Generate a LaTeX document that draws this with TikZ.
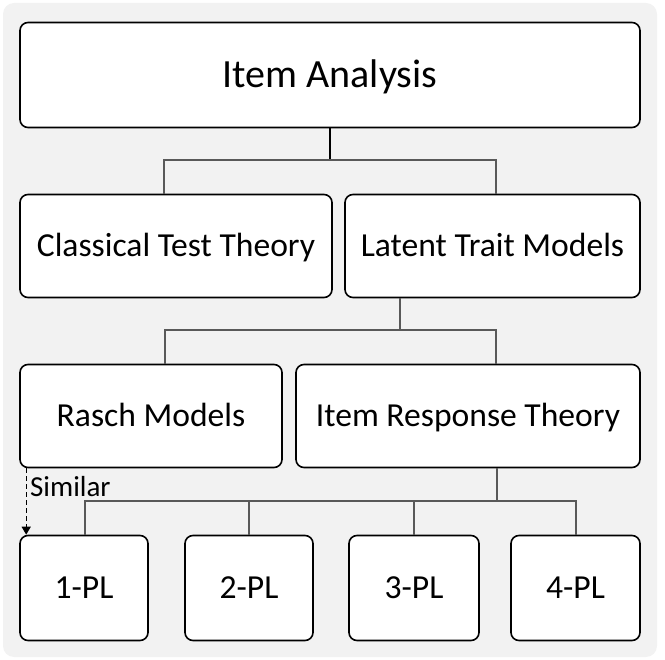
\documentclass[tikz,border=0pt]{standalone}
\usepackage{fontspec}
\setmainfont{Carlito}
\usetikzlibrary{arrows.meta}

\begin{document}
\begin{tikzpicture}[x=1pt, y=-1pt,
        box/.style={draw=black, line width=1.6pt, fill=white, rounded corners=8pt,
            font=\fontsize{33.6}{38}\selectfont, inner sep=0pt,
            text height=21.6pt, text depth=0pt},
        link/.style={draw=black!65, line width=1.3pt},
        similar/.style={draw=black, line width=1.3pt, dash pattern=on 5pt off 3pt,
            -{Triangle[width=9pt,length=8pt]}}]
        \useasboundingbox (0,0) rectangle (665,660);

        % hintergrund
        \fill[black!5, rounded corners=11pt] (3,3) rectangle (657,657);

        % oberste ebene
        \node[box, minimum width=620, minimum height=105, text height=25.8pt,
            font=\fontsize{40}{46}\selectfont] (ia) at (330,75) {Item Analysis};

        % zweite ebene
        \node[box, minimum width=312, minimum height=103] (ctt) at (176,246) {Classical Test Theory};
        \node[box, minimum width=295, minimum height=103] (ltm) at (492.5,246) {Latent Trait Models};

        % dritte ebene
        \node[box, minimum width=262, minimum height=103] (rm) at (151,416) {Rasch Models};
        \node[box, minimum width=344, minimum height=103] (irt) at (468,416) {Item Response Theory};

        % modelle
        \node[box, minimum width=128, minimum height=105] (pl1) at (84,588) {1-PL};
        \node[box, minimum width=128, minimum height=105] (pl2) at (249,588) {2-PL};
        \node[box, minimum width=130, minimum height=105] (pl3) at (414,588) {3-PL};
        \node[box, minimum width=129, minimum height=105] (pl4) at (575.5,588) {4-PL};

        % verbindungen
        \coordinate (j1) at (330,160);
        \coordinate (j2) at (400,330);
        \coordinate (j3) at (497,501);

        \draw[link, draw=black] (ia) -- (j1);
        \draw[link] ([xshift=-12pt]ctt.north) |- (j1) -| ([xshift=3.5pt]ltm.north);

        \draw[link] (ltm.south -| j2) -- (j2);
        \draw[link] ([xshift=14pt]rm.north) |- (j2) -| ([xshift=28pt]irt.north);

        \draw[link] (irt.south -| j3) -- (j3);
        \draw[link] ([xshift=1pt]pl1.north) |- (j3) -| ([xshift=0.5pt]pl4.north);
        \foreach \n in {pl2,pl3}
            \draw[link] (\n.north) -- (\n.north |- j3);

        % aehnlich
        \draw[similar] ([xshift=7pt]rm.south west) -- ([xshift=7pt]pl1.north west)
            node[pos=0.28, right, xshift=0pt, font=\fontsize{29}{33}\selectfont] {Similar};
\end{tikzpicture}
\end{document}
